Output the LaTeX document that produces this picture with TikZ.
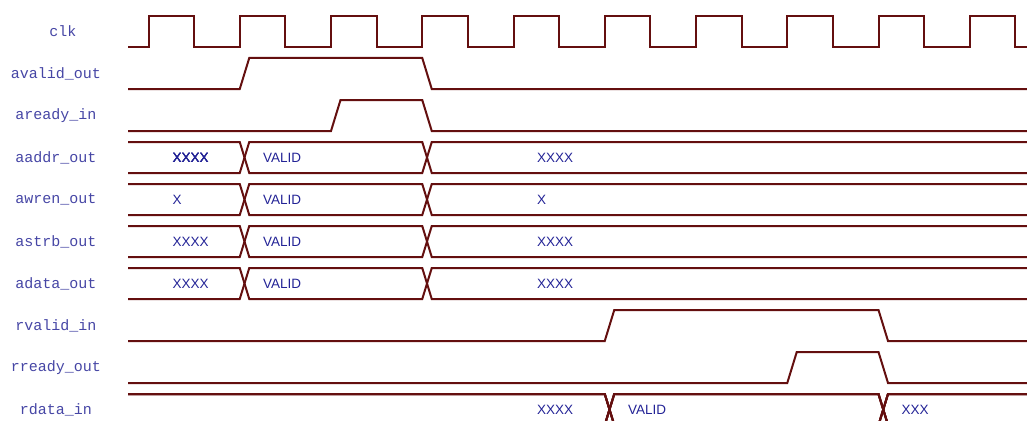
\documentclass[tikz,border=0pt]{standalone}
\usepackage{fontspec}
\usepackage{tikz}
\usetikzlibrary{positioning, calc}
\newfontfamily\sigfont{Liberation Mono}
\newfontfamily\valfont{Liberation Sans}
\definecolor{wavered}{RGB}{100,15,15}
\definecolor{labelblue}{RGB}{70,70,165}
\definecolor{busblue}{RGB}{35,35,150}
\tikzset{
  wave/.style={draw=wavered,line width=2pt,line join=miter},
  siglabel/.style={font=\sigfont\fontsize{15}{18}\selectfont,text=labelblue,inner sep=0pt},
  busval/.style={font=\valfont\fontsize{13.5}{16}\selectfont,text=busblue,inner sep=0pt,anchor=west}
}
% row: 0 = clk, one row every 42px
\newcommand\sigpulse[3]{%
  \pgfmathsetmacro\hi{16+42*#1}\pgfmathsetmacro\lo{47+42*#1}
  \draw[wave] (128,\lo) -- (#2,\lo) -- ({#2+9.5},\hi) -- (#3,\hi) -- ({#3+9.5},\lo) -- (1027,\lo);}
\newcommand\sigbus[3]{%
  \pgfmathsetmacro\hi{16+42*#1}\pgfmathsetmacro\lo{47+42*#1}
  \draw[wave] (128,\hi) -- (#2,\hi) -- ({#2+9.5},\lo) -- (#3,\lo) -- ({#3+9.5},\hi) -- (1027,\hi);
  \draw[wave] (128,\lo) -- (#2,\lo) -- ({#2+9.5},\hi) -- (#3,\hi) -- ({#3+9.5},\lo) -- (1027,\lo);}
\begin{document}
\begin{tikzpicture}[x=1pt,y=-1pt]
  \clip (0,0) rectangle (1027,420);
  % labels
  \node[siglabel] (lclk) at (63,31.5) {clk};
  \foreach \nm/\i in {avalid\_out/1,aready\_in/2,aaddr\_out/3,awren\_out/4,astrb\_out/5,
                      adata\_out/6,rvalid\_in/7,rready\_out/8,rdata\_in/9}
    \node[siglabel] (l\i) at (56,{31.5+42*\i}) {\nm};
  % clock
  \draw[wave] (128,47) \foreach \k in {0,...,9}{
      -- ({148.5+91.25*\k},47) -- ({148.5+91.25*\k},16)
      -- ({194.1+91.25*\k},16) -- ({194.1+91.25*\k},47)} -- (1027,47);
  % handshakes
  \sigpulse{1}{239.75}{422.25}
  \sigpulse{2}{331}{422.25}
  \sigpulse{7}{604.75}{878.5}
  \sigpulse{8}{787.25}{878.5}
  % buses
  \foreach \i in {3,...,6}
    \sigbus{\i}{239.75}{422.25}
  \sigbus{9}{604.75}{878.5}
  % bus values
  \node[busval] (v3a) at (172.5,157.5) {XXXX};
  \node[busval] (v3b) at (263,157.5) {VALID};
  \node[busval] (v3c) at (537,157.5) {XXXX};
  \node[busval] (v4a) at (172.5,199.5) {X};
  \node[busval] (v4b) at (263,199.5) {VALID};
  \node[busval] (v4c) at (537,199.5) {X};
  \node[busval] (v5a) at (172.5,241.5) {XXXX};
  \node[busval] (v5b) at (263,241.5) {VALID};
  \node[busval] (v5c) at (537,241.5) {XXXX};
  \node[busval] (v6a) at (172.5,283.5) {XXXX};
  \node[busval] (v6b) at (263,283.5) {VALID};
  \node[busval] (v6c) at (537,283.5) {XXXX};
  \node[busval] (v9a) at (537,409.5) {XXXX};
  \node[busval] (v9b) at (628,409.5) {VALID};
  \node[busval] (v9c) at (901.5,409.5) {XXX};
\end{tikzpicture}
\end{document}
